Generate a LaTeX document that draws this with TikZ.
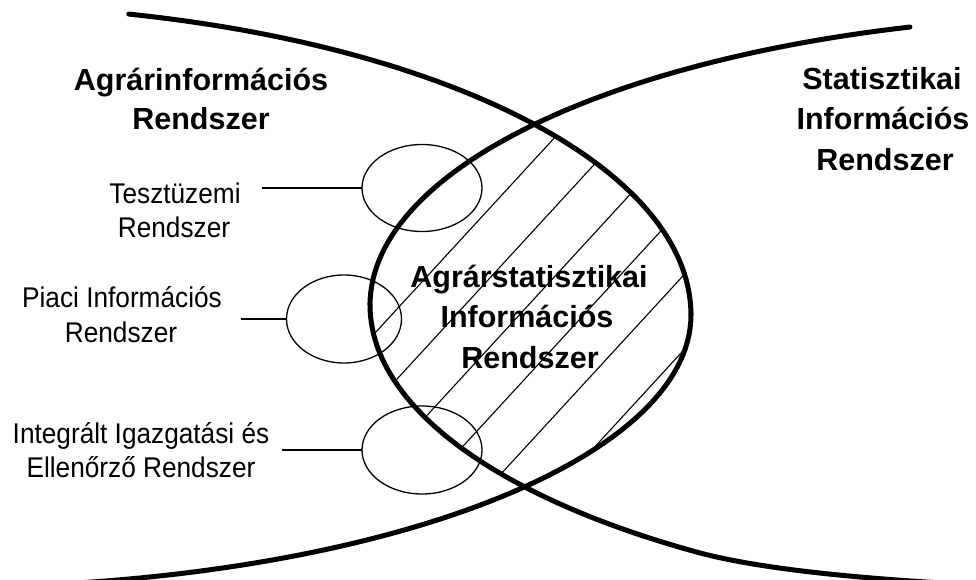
\documentclass[tikz,border=0pt]{standalone}
\usepackage{fontspec}
\setmainfont{Liberation Sans}
\newfontfamily\lblfont{Liberation Sans}[FakeStretch=0.92]
\usetikzlibrary{shapes.geometric}
\begin{document}
\begin{tikzpicture}[x=1pt,y=-1pt,
  bigarc/.style={line width=5pt, line cap=round},
  hatchline/.style={line width=1.1pt},
  subsys/.style={draw, ellipse, line width=1.3pt, inner sep=0pt, outer sep=0pt},
  link/.style={line width=1.2pt},
  titletext/.style={font=\fontsize{30.5}{36}\selectfont\bfseries, anchor=base, inner sep=0pt},
  labeltext/.style={font=\lblfont\fontsize{28.5}{32}\selectfont, anchor=base, inner sep=0pt}]
\useasboundingbox (0,0) rectangle (976,580);
\clip (0,0) rectangle (976,580);

% hatching of the common region
\begin{scope}
  \clip plot[domain=76.1:0, samples=50] ({-49+740*cos(\x)}, {315-310*sin(\x)})
     -- plot[domain=0:82, samples=50] ({-49+740*cos(\x)}, {315+272*sin(\x)})
     -- (-20,600) -- (-20,-20) -- cycle;
  \clip plot[domain=73.45:0, samples=50] ({1125-755*cos(\x)}, {305-290*sin(\x)})
     -- plot[domain=0:55, samples=40] ({1125-755*cos(\x)}, {305+300*sin(\x)})
     .. controls (752,568) and (850,578) .. (960,584)
     -- (1000,600) -- (1000,-20) -- cycle;
  \foreach \c in {741,811,880,950,1019,1094}
    \draw[hatchline] (300,{\c-326.4}) -- (760,{\c-826.9});
\end{scope}

% the two large systems
\draw[bigarc] plot[domain=76.1:0, samples=60] ({-49+740*cos(\x)}, {315-310*sin(\x)})
   -- plot[domain=0:82, samples=60] ({-49+740*cos(\x)}, {315+272*sin(\x)});
\draw[bigarc] plot[domain=73.45:0, samples=60] ({1125-755*cos(\x)}, {305-290*sin(\x)})
   -- plot[domain=0:55, samples=50] ({1125-755*cos(\x)}, {305+300*sin(\x)})
   .. controls (752,568) and (850,578) .. (960,584);

% subsystems
\node[subsys, minimum width=120pt, minimum height=87pt] (teszt) at (422,188) {};
\node[subsys, minimum width=115pt, minimum height=88pt] (piaci) at (344,319) {};
\node[subsys, minimum width=120pt, minimum height=88pt] (iier) at (422,450) {};

\coordinate (tesztend) at (262,188);
\coordinate (piaciend) at (241,319);
\coordinate (iierend) at (282,450);
\draw[link] (tesztend) -- (teszt.west);
\draw[link] (piaciend) -- (piaci.west);
\draw[link] (iierend) -- (iier.west);

% titles
\node[titletext] (lt1) at (201,91) {Agrárinformációs};
\node[titletext] (lt2) at (201,130) {Rendszer};
\node[titletext] (rt1) at (882,90) {Statisztikai};
\node[titletext] (rt2) at (883,130) {Információs};
\node[titletext] (rt3) at (885,171) {Rendszer};
\node[titletext] (ct1) at (529,287) {Agrárstatisztikai};
\node[titletext] (ct2) at (527,327) {Információs};
\node[titletext] (ct3) at (530,368) {Rendszer};

% labels
\node[labeltext] (tl1) at (175,203) {Tesztüzemi};
\node[labeltext] (tl2) at (174,237) {Rendszer};
\node[labeltext] (pl1) at (122,307) {Piaci Információs};
\node[labeltext] (pl2) at (121,342) {Rendszer};
\node[labeltext] (il1) at (141,443) {Integrált Igazgatási és};
\node[labeltext] (il2) at (141,477) {Ellenőrző Rendszer};
\end{tikzpicture}
\end{document}
